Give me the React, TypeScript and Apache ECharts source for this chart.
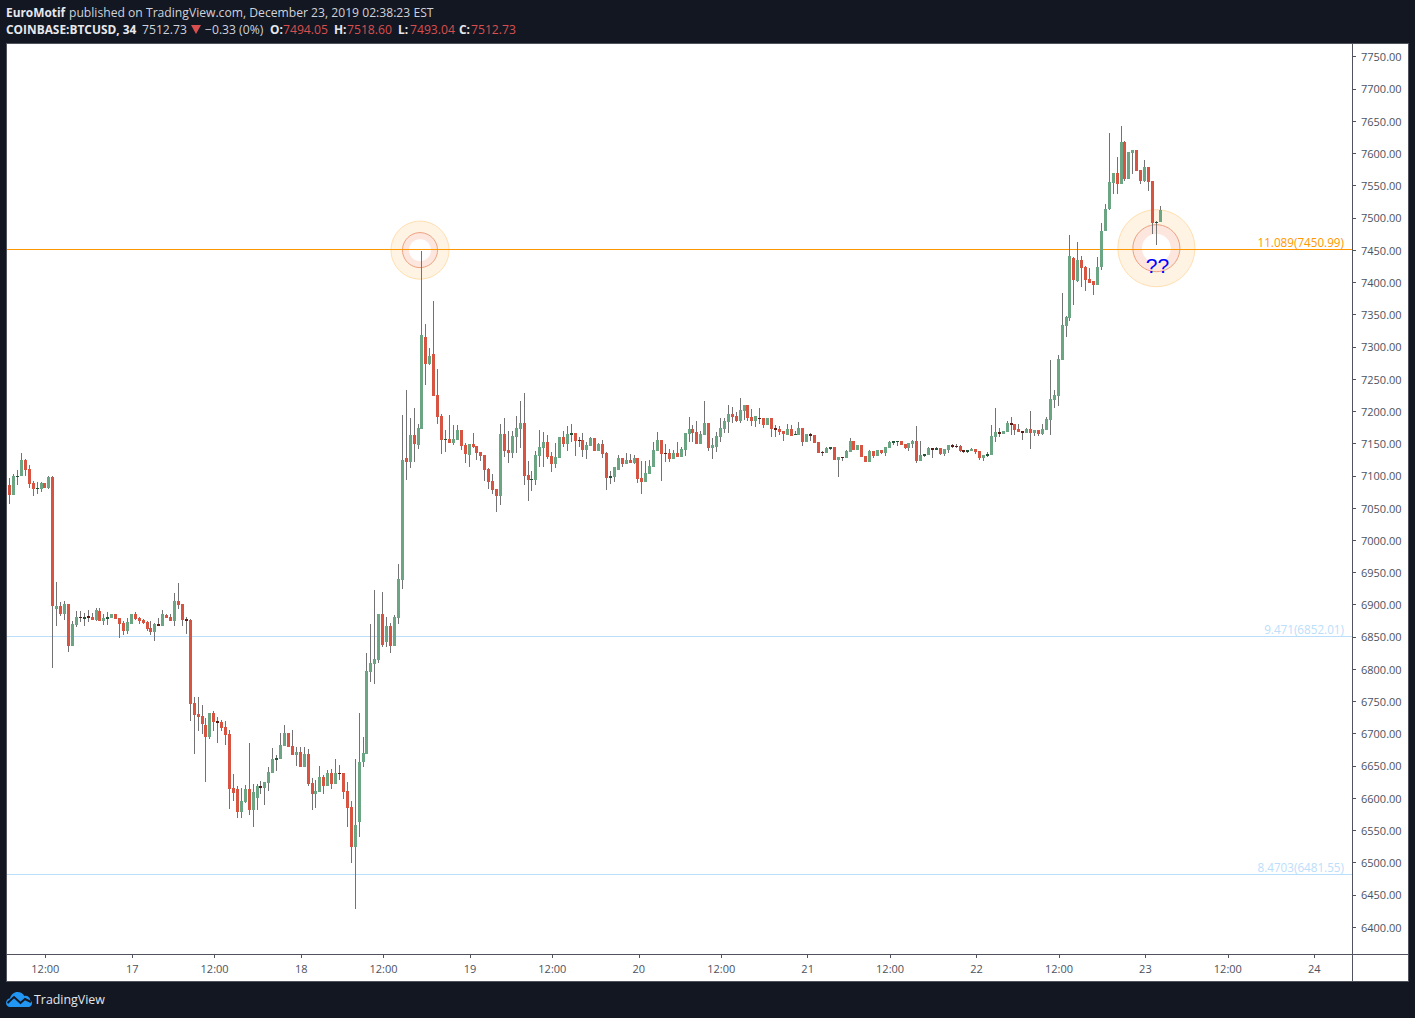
import React, { useEffect, useRef } from "react";
import * as echarts from "echarts";

const opens = [
  7086,7070,7099,7099,7125,7110,7089,7080,7080,7089,
  7081,7098,6893,6898,6886,6901,6836,6869,6881,6878,
  6882,6881,6876,6890,6875,6878,6879,6886,6879,6872,
  6859,6870,6886,6879,6876,6873,6864,6858,6870,6867,
  6884,6881,6875,6906,6901,6878,6877,6748,6731,6728,
  6714,6695,6732,6720,6718,6711,6700,6616,6614,6579,
  6594,6614,6582,6600,6619,6616,6624,6639,6659,6661,
  6681,6701,6681,6667,6672,6649,6669,6624,6607,6610,
  6633,6619,6639,6622,6639,6639,6611,6586,6524,6563,
  6656,6669,6796,6808,6814,6886,6842,6867,6836,6880,
  6938,7128,7121,7163,7148,7173,7315,7273,7289,7225,
  7193,7156,7157,7151,7156,7171,7148,7132,7149,7146,
  7137,7132,7110,7092,7079,7069,7165,7140,7135,7160,
  7173,7182,7101,7094,7093,7131,7143,7152,7131,7118,
  7128,7160,7149,7163,7166,7155,7155,7140,7146,7159,
  7138,7149,7135,7097,7098,7109,7128,7118,7124,7120,
  7128,7096,7090,7103,7114,7138,7155,7135,7135,7126,
  7135,7129,7140,7165,7172,7168,7149,7163,7182,7143,
  7145,7160,7172,7183,7196,7193,7185,7200,7210,7191,
  7185,7190,7190,7179,7190,7174,7172,7169,7163,7172,
  7164,7163,7174,7152,7165,7163,7152,7137,7135,7142,
  7145,7124,7129,7128,7137,7154,7140,7148,7131,7121,
  7138,7131,7140,7135,7143,7151,7152,7154,7149,7143,
  7149,7154,7123,7131,7132,7143,7140,7143,7134,7140,
  7148,7146,7146,7140,7137,7138,7141,7138,7128,7131,
  7132,7160,7168,7165,7168,7182,7180,7172,7169,7166,
  7172,7166,7171,7165,7171,7187,7218,7224,7280,7332,
  7345,7438,7402,7435,7424,7405,7402,7396,7424,7480,
  7514,7554,7570,7552,7618,7560,7601,7605,7574,7557,
  7579,7557,7493,7494.05,
];
const closes = [
  7070,7100,7100,7125,7109,7087,7080,7081,7089,7081,
  7098,6898,6898,6886,6901,6836,6870,6881,6880,6881,
  6879,6876,6892,6875,6879,6881,6886,6878,6870,6859,
  6873,6886,6878,6875,6872,6862,6858,6870,6867,6886,
  6879,6875,6906,6900,6876,6875,6746,6729,6726,6715,
  6695,6732,6718,6717,6709,6698,6614,6608,6579,6596,
  6614,6582,6610,6619,6616,6625,6641,6661,6662,6683,
  6701,6680,6667,6672,6648,6669,6622,6607,6611,6633,
  6619,6639,6622,6639,6638,6610,6585,6524,6558,6656,
  6670,6797,6810,6816,6886,6838,6867,6836,6881,6940,
  7124,7121,7163,7149,7174,7318,7273,7286,7224,7191,
  7155,7156.5,7151,7157,7171,7146,7134,7149,7145,7135,
  7131,7109,7090,7078,7069,7165,7138,7135,7162,7174,
  7182,7100,7093,7095,7132,7145,7152,7129,7118,7129,
  7160,7149,7165,7166,7154,7154,7140,7148,7159,7138,
  7149,7134,7096,7100,7114,7128,7118,7124,7120,7128,
  7095,7090,7104,7115,7140,7155,7134,7134,7126,7135,
  7129,7141,7166,7172,7166,7149,7165,7182,7143,7148,
  7162,7174,7185,7196,7191,7185,7202,7210,7190,7185,
  7193,7189,7179,7190,7173,7171,7168,7165,7172,7162,
  7165,7174,7152,7165,7162,7151,7135,7135,7143,7145,
  7124,7129,7128,7138,7154,7140,7148,7129,7121,7138,
  7131,7140,7135,7145,7152,7154,7154,7148,7143,7151,
  7154,7123,7132,7134,7143,7140,7143,7134,7142,7148,
  7145,7145,7138,7137,7140,7142,7137,7128,7132,7134,
  7162,7168,7165,7170,7182,7179,7171,7168,7166,7172,
  7166,7171,7165,7172,7188,7219,7225,7281,7334,7346,
  7441,7404,7435,7422,7404,7399,7396,7424,7480,7514,
  7556,7570,7552,7618,7560,7602,7605,7573,7557,7579,
  7556,7492,7494,7512.73,
];
const highs = [
  7096,7103,7109,7136,7126,7117,7092,7090,7090,7089,
  7100,7100,6935,6904,6906,6901,6875,6890,6890,6887,
  6892,6887,6895,6895,6886,6889,6886,6886,6879,6875,
  6879,6886,6889,6881,6878,6875,6875,6872,6879,6892,
  6886,6886,6918,6934,6901,6881,6878,6757,6757,6745,
  6725,6732,6735,6726,6721,6720,6706,6638,6619,6616,
  6621,6686,6622,6622,6627,6625,6649,6678,6667,6701,
  6714,6701,6706,6680,6680,6680,6676,6631,6628,6650,
  6636,6644,6645,6661,6652,6639,6625,6596,6661,6732,
  6695,6825,6870,6923,6886,6920,6881,6872,6884,6963,
  7194,7233,7190,7205,7180,7449,7335,7298,7371,7266,
  7196,7171,7194,7179,7179,7171,7151,7149,7166,7146,
  7137,7132,7112,7103,7079,7180,7190,7169,7169,7193,
  7216,7228,7123,7107,7138,7171,7168,7163,7137,7151,
  7160,7169,7177,7180,7166,7160,7166,7152,7160,7159,
  7151,7155,7137,7107,7114,7132,7128,7135,7134,7132,
  7128,7123,7123,7124,7152,7168,7155,7149,7142,7140,
  7152,7145,7166,7191,7179,7185,7169,7216,7182,7159,
  7168,7190,7190,7210,7207,7199,7221,7210,7210,7204,
  7193,7205,7190,7190,7190,7179,7177,7169,7180,7179,
  7169,7183,7174,7165,7166,7163,7152,7138,7145,7145,
  7145,7129,7129,7140,7159,7154,7148,7148,7131,7140,
  7138,7140,7140,7145,7154,7154,7154,7154,7149,7151,
  7155,7177,7154,7134,7145,7143,7145,7143,7142,7148,
  7149,7149,7148,7140,7140,7143,7142,7138,7132,7137,
  7179,7205,7174,7170,7185,7191,7180,7180,7169,7174,
  7200,7171,7171,7180,7191,7280,7233,7287,7383,7348,
  7473,7439,7463,7441,7425,7422,7402,7439,7492,7522,
  7632,7570,7594,7642,7619,7602,7605,7605,7574,7590,
  7579,7557,7495,7518.6,
];
const lows = [
  7056,7070,7086,7099,7100,7081,7069,7072,7075,7081,
  7080,6802,6867,6883,6876,6827,6836,6866,6873,6867,
  6873,6876,6875,6875,6869,6869,6879,6878,6848,6853,
  6855,6870,6876,6870,6870,6859,6853,6844,6867,6867,
  6879,6875,6867,6893,6867,6855,6720,6669,6704,6700,
  6625,6692,6704,6686,6704,6683,6583,6596,6569,6569,
  6593,6574,6555,6582,6607,6590,6611,6639,6642,6661,
  6681,6680,6667,6650,6648,6649,6619,6582,6585,6610,
  6607,6619,6614,6622,6628,6599,6555,6500,6428,6540,
  6648,6669,6780,6777,6810,6835,6835,6825,6836,6870,
  6924,7093,7112,7121,7142,7173,7241,7272,7224,7180,
  7134,7137,7151,7148,7156,7140,7120,7114,7143,7125,
  7123,7092,7080,7072,7044,7055,7129,7120,7128,7135,
  7143,7086,7061,7076,7086,7114,7114,7126,7106,7112,
  7128,7145,7138,7152,7131,7145,7129,7126,7146,7138,
  7138,7128,7078,7087,7090,7109,7114,7118,7120,7118,
  7089,7072,7090,7103,7114,7138,7092,7121,7121,7126,
  7129,7129,7131,7152,7152,7149,7149,7163,7138,7126,
  7137,7152,7166,7166,7182,7183,7182,7186,7185,7177,
  7176,7180,7174,7179,7160,7160,7163,7154,7163,7162,
  7163,7163,7146,7152,7154,7151,7135,7131,7135,7140,
  7124,7098,7123,7128,7137,7140,7140,7129,7121,7121,
  7128,7131,7134,7131,7143,7148,7146,7148,7141,7138,
  7143,7120,7123,7129,7132,7127,7140,7132,7131,7135,
  7143,7143,7137,7135,7135,7138,7134,7124,7123,7129,
  7132,7152,7160,7165,7168,7163,7163,7168,7155,7166,
  7141,7162,7162,7163,7171,7163,7205,7208,7280,7315,
  7340,7365,7400,7393,7387,7399,7380,7396,7419,7480,
  7512,7537,7537,7552,7557,7560,7568,7573,7552,7556,
  7542,7475,7458,7493.04,
];

const priceTicks = [
  7750,7700,7650,7600,7550,7500,7450,7400,7350,7300,7250,7200,7150,7100,
  7050,7000,6950,6900,6850,6800,6750,6700,6650,6600,6550,6500,6450,6400,
];
const timeTicks = [9.1,31.25,52.2,74.25,95.2,117.25,138.2,160.2,181.2,203.2,224.2,246.2,267.2,289.2,310.2,332.2];
const timeLabels = ["12:00","17","12:00","18","12:00","19","12:00","20","12:00","21","12:00","22","12:00","23","12:00","24"];

const levelPrices = [7450.99, 6852.01, 6481.55];
const levelLabels = ["11.089(7450.99)", "9.471(6852.01)", "8.4703(6481.55)"];

const ringBars = [104.5, 292];
const ringPrices = [7450, 7453];

const FONT = '"Open Sans", sans-serif';
const BG = "#131722";
const FRAME = "#50535e";
const UP = "#6ba583";
const DOWN = "#d75442";
const UP_DARK = "#225437";
const DOWN_DARK = "#5b1a13";
const WICK = "#737375";
const LEVEL_COLORS = ["#ff9800", "#bbdefb", "#bbdefb"];
const RING_RADII = [
  [29, 17.5, 11],
  [38.5, 23.5, 14.5],
];

const LOGO =
  "M0 11C0 8.5 1.8 6.5 4 6.2C5.2 2.5 8 0 11.5 0C14.5 0 17 1.6 18.3 4C21.3 3.2 24 5.2 24.2 8.2C25.5 9 26 10 26 11.3C26 13.3 24.5 15 22.5 15L4 15C1.8 15 0 13.2 0 11Z";
echarts.graphic.registerShape("tvlogo", echarts.graphic.extendPath(LOGO, {}));

type Piece = { text: string; x: number; bold?: boolean; color: string };
const HEAD_LINE_1: Piece[] = [
  { text: "EuroMotif", x: 6, bold: true, color: "#e6e8ee" },
  { text: "published on TradingView.com, December 23, 2019 02:38:23 EST", x: 69, color: "#cfd2da" },
];
const HEAD_LINE_2: Piece[] = [
  { text: "COINBASE:BTCUSD, 34", x: 6, bold: true, color: "#e6e8ee" },
  { text: "7512.73", x: 142, color: "#cfd2da" },
  { text: "−0.33 (0%)", x: 205, color: "#cfd2da" },
  { text: "O:", x: 270, bold: true, color: "#e6e8ee" },
  { text: "7494.05", x: 283, color: "#d94f4f" },
  { text: "H:", x: 334, bold: true, color: "#e6e8ee" },
  { text: "7518.60", x: 347, color: "#d94f4f" },
  { text: "L:", x: 398, bold: true, color: "#e6e8ee" },
  { text: "7493.04", x: 410, color: "#d94f4f" },
  { text: "C:", x: 459, bold: true, color: "#e6e8ee" },
  { text: "7512.73", x: 471, color: "#d94f4f" },
];

function headerText(p: Piece, y: number) {
  return {
    type: "text",
    x: p.x,
    y,
    z: 5,
    style: {
      text: p.text,
      fill: p.color,
      font: p.bold ? `bold 11.9px ${FONT}` : `12.15px ${FONT}`,
      textVerticalAlign: "middle",
    },
  };
}

function renderCandle(_: any, api: any) {
  const o = api.value(1);
  const h = api.value(2);
  const l = api.value(3);
  const c = api.value(4);
  const [cx, yO] = api.coord([api.value(0), o]);
  const yC = api.coord([api.value(0), c])[1];
  const yH = api.coord([api.value(0), h])[1];
  const yL = api.coord([api.value(0), l])[1];
  const px = Math.floor(cx);
  const top = Math.round(Math.min(yO, yC));
  const bottom = Math.round(Math.max(yO, yC));
  const up = c >= o;
  const thin = Math.abs(c - o) <= 3.5;
  const fill = thin ? (up ? UP_DARK : DOWN_DARK) : up ? UP : DOWN;
  const wickTop = Math.round(yH);
  const wickBottom = Math.round(yL);
  return {
    type: "group",
    children: [
      {
        type: "rect",
        silent: true,
        shape: { x: px, y: wickTop, width: 1, height: Math.max(1, wickBottom - wickTop) },
        style: { fill: WICK },
      },
      {
        type: "rect",
        silent: true,
        shape: { x: px - 1, y: top, width: 3, height: Math.max(1, bottom - top) },
        style: { fill },
      },
    ],
  };
}

function renderRing(params: any, api: any) {
  const [x, y] = api.coord([api.value(0), api.value(1)]);
  const [a, b, c] = RING_RADII[params.dataIndex];
  return {
    type: "group",
    children: [
      { type: "circle", silent: true, shape: { cx: x, cy: y, r: a }, style: { fill: "#fff3e3", stroke: "#ffdfb0", lineWidth: 1 } },
      { type: "circle", silent: true, shape: { cx: x, cy: y, r: b }, style: { fill: "#fde6dd", stroke: "#eda07f", lineWidth: 1 } },
      { type: "circle", silent: true, shape: { cx: x, cy: y, r: c }, style: { fill: "#ffffff" } },
    ],
  };
}

function renderLevel(params: any, api: any) {
  const y = api.coord([0, api.value(0)])[1];
  const row = Math.round(y - 0.1);
  const cs = params.coordSys;
  const color = LEVEL_COLORS[params.dataIndex];
  return {
    type: "group",
    children: [
      {
        type: "rect",
        silent: true,
        shape: { x: cs.x, y: row, width: cs.width, height: 1 },
        style: { fill: color },
      },
      {
        type: "text",
        silent: true,
        x: cs.x + cs.width - 8,
        y: row - 7.5,
        style: {
          text: levelLabels[params.dataIndex],
          fill: color,
          font: `11.7px ${FONT}`,
          textAlign: "right",
          textVerticalAlign: "middle",
        },
      },
    ],
  };
}

export default function App() {
  const ref = useRef<HTMLDivElement>(null);
  useEffect(() => {
    const chart = echarts.init(ref.current!, undefined, { renderer: "svg" });
    const rows = opens.map((o, i) => [i, o, highs[i], lows[i], closes[i]]);
    chart.setOption({
      animation: false,
      backgroundColor: BG,
      grid: { left: 7, right: 63, top: 44, bottom: 64 },
      xAxis: {
        type: "value",
        min: -0.662,
        max: 341.81,
        splitLine: { show: false },
        axisLine: { show: true, onZero: false, lineStyle: { color: FRAME } },
        axisTick: { show: true, length: 4, inside: false, customValues: timeTicks, lineStyle: { color: FRAME } },
        axisLabel: {
          customValues: timeTicks,
          margin: 9,
          color: "#4c525e",
          fontFamily: FONT,
          fontSize: 11,
          formatter: (v: number) => timeLabels[timeTicks.indexOf(v)] ?? "",
        },
      },
      yAxis: {
        type: "value",
        position: "right",
        min: 6358.3,
        max: 7769.7,
        splitLine: { show: false },
        axisLine: { show: true, onZero: false, lineStyle: { color: FRAME } },
        axisTick: { show: true, length: 4, customValues: priceTicks, lineStyle: { color: FRAME } },
        axisLabel: {
          customValues: priceTicks,
          margin: 9,
          color: "#4c525e",
          fontFamily: FONT,
          fontSize: 11,
          padding: [4, 0, 0, 0],
          formatter: (v: number) => v.toFixed(2),
        },
      },
      graphic: [
        { type: "rect", z: -2, silent: true, shape: { x: 6.5, y: 43.5, width: 1402, height: 938 }, style: { fill: "#ffffff", stroke: FRAME, lineWidth: 1 } },
        { type: "line", z: 1, silent: true, shape: { x1: 1352, y1: 954.5, x2: 1408, y2: 954.5 }, style: { stroke: FRAME, lineWidth: 1 } },
        { type: "line", z: 1, silent: true, shape: { x1: 1352.5, y1: 954, x2: 1352.5, y2: 981 }, style: { stroke: FRAME, lineWidth: 1 } },
        ...HEAD_LINE_1.map((p) => headerText(p, 12)),
        ...HEAD_LINE_2.map((p) => headerText(p, 29)),
        { type: "polygon", z: 5, silent: true, shape: { points: [[191, 25], [201, 25], [196, 34]] }, style: { fill: "#d94f4f" } },
        { type: "tvlogo", x: 6, y: 992, z: 5, silent: true, style: { fill: "#2196f3" } },
        { type: "polyline", z: 6, silent: true, shape: { points: [[7.5, 1003], [14, 997], [20.5, 1003], [25, 999], [31, 1002]] }, style: { stroke: BG, lineWidth: 2, fill: "none" } },
        { type: "text", x: 34, y: 999.5, z: 5, silent: true, style: { text: "TradingView", fill: "#e3e5ea", font: `12.4px ${FONT}`, textVerticalAlign: "middle" } },
        { type: "text", x: 1157.5, y: 265.5, z: 20, silent: true, style: { text: "??", fill: "#0000ff", font: '21px "Liberation Sans"', textAlign: "center", textVerticalAlign: "middle" } },
      ],
      series: [
        {
          type: "custom",
          name: "Rings",
          z: 1,
          silent: true,
          clip: true,
          renderItem: renderRing,
          data: ringBars.map((b, i) => [b, ringPrices[i]]),
          encode: { x: 0, y: 1 },
        },
        {
          type: "custom",
          name: "Levels",
          z: 2,
          silent: true,
          clip: true,
          renderItem: renderLevel,
          data: levelPrices.map((p) => [p]),
          encode: { y: 0 },
        },
        {
          type: "custom",
          name: "BTCUSD",
          z: 3,
          silent: true,
          clip: true,
          renderItem: renderCandle,
          data: rows,
          dimensions: ["i", "open", "high", "low", "close"],
          encode: { x: 0, y: [1, 2, 3, 4] },
        },
      ],
    });
    return () => chart.dispose();
  }, []);
  return <div ref={ref} style={{ position: "fixed", left: 0, top: 0, width: 1415, height: 1018 }} />;
}
